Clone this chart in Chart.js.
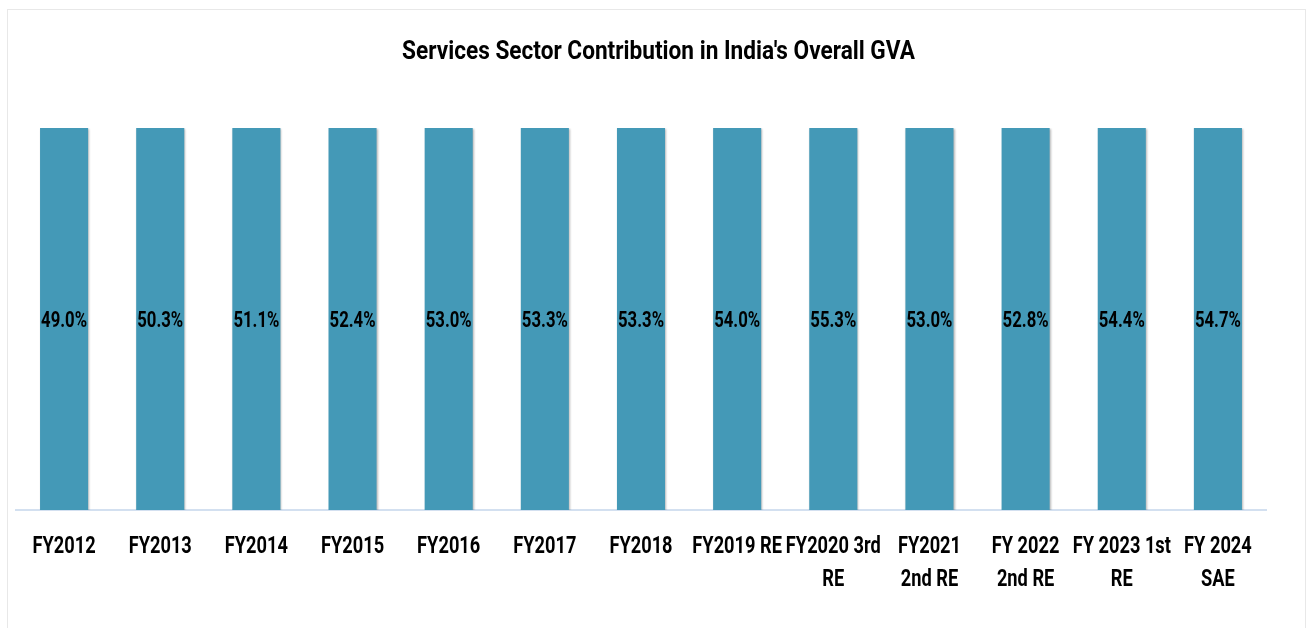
<!DOCTYPE html>
<html lang="en">
<head>
<meta charset="UTF-8">
<title>Services Sector Contribution in India's Overall GVA</title>
<script src="https://cdn.jsdelivr.net/npm/chart.js"></script>
<style>
    body {
        margin: 0;
        background: #ffffff;
    }
    .frame {
        position: absolute;
        left: 7px;
        top: 9px;
        width: 1299px;
        height: 640px;
        border: 1px solid #e8e8e8;
        box-sizing: border-box;
    }
    #chart-gva {
        position: absolute;
        left: 0;
        top: 0;
    }
</style>
</head>
<body>
<div class="frame">
    <canvas id="chart-gva" width="1297" height="617"></canvas>
</div>

<script>
    // categorias (eixo x) – rótulos com quebra de linha
    const categories = [
        'FY2012', 'FY2013', 'FY2014', 'FY2015', 'FY2016', 'FY2017', 'FY2018',
        'FY2019 RE', ['FY2020 3rd', 'RE'], ['FY2021', '2nd RE'], ['FY 2022', '2nd RE'],
        ['FY 2023 1st', 'RE'], ['FY 2024', 'SAE']
    ];
    // participação do setor de serviços no GVA (%)
    const servicesShare = [49.0, 50.3, 51.1, 52.4, 53.0, 53.3, 53.3, 54.0, 55.3, 53.0, 52.8, 54.4, 54.7];

    const chartTitle = "Services Sector Contribution in India's Overall GVA";
    const FONT = 'Roboto, "DejaVu Sans", sans-serif';

    // gráfico original é "100% empilhado" com uma única série
    function percentOfStack(seriesList) {
        return seriesList.map(s => s.map((v, i) => {
            const total = seriesList.reduce((acc, other) => acc + other[i], 0);
            return v / total * 100;
        }));
    }
    const stacked = percentOfStack([servicesShare]);

    // texto estreito (imitando fonte condensada)
    function narrowText(c, text, x, y, size, sx) {
        c.save();
        c.font = 'bold ' + size + 'px ' + FONT;
        c.textAlign = 'center';
        c.textBaseline = 'middle';
        c.fillStyle = '#000';
        c.translate(x, y);
        c.scale(sx, 1);
        c.fillText(text, 0, 0);
        c.restore();
    }

    // título, rótulos do eixo x e valores nas barras
    const textLayer = {
        id: 'textLayer',
        afterDraw(chart) {
            const c = chart.ctx;
            const area = chart.chartArea;
            const xScale = chart.scales.x;
            const meta = chart.getDatasetMeta(0);

            // título centrado no quadro todo (não na área do gráfico)
            narrowText(c, chartTitle, chart.width / 2 + 2, 42, 26, 0.87);

            categories.forEach((cat, i) => {
                const x = xScale.getPixelForValue(i);
                const lines = Array.isArray(cat) ? cat : [cat];
                lines.forEach((ln, k) => {
                    narrowText(c, ln, x, area.bottom + 37 + k * 33, 24, 0.76);
                });
            });

            meta.data.forEach((bar, i) => {
                const mid = (bar.y + bar.base) / 2;
                narrowText(c, servicesShare[i].toFixed(1) + '%', bar.x, mid + 2, 22, 0.76);
            });
        }
    };

    // sombra leve das barras
    const barShadow = {
        id: 'barShadow',
        beforeDatasetsDraw(chart) {
            chart.ctx.save();
            chart.ctx.shadowColor = 'rgba(0,0,0,0.28)';
            chart.ctx.shadowOffsetX = 1;
            chart.ctx.shadowOffsetY = 1;
            chart.ctx.shadowBlur = 2;
        },
        afterDatasetsDraw(chart) {
            chart.ctx.restore();
        }
    };

    const ctx = document.getElementById('chart-gva').getContext('2d');
    new Chart(ctx, {
        type: 'bar',
        data: {
            labels: categories,
            datasets: [{
                label: 'Services share of GVA',
                data: stacked[0],
                backgroundColor: '#4499b7',
                categoryPercentage: 1,
                barPercentage: 0.5
            }]
        },
        options: {
            responsive: false,
            animation: false,
            layout: {
                padding: { left: 8, right: 39, top: 118, bottom: 109 }
            },
            plugins: {
                legend: { display: false },
                tooltip: { enabled: false },
                title: { display: false }
            },
            scales: {
                x: {
                    grid: { display: false },
                    border: { color: '#d3e0f0', width: 2 },
                    ticks: { display: false }
                },
                y: {
                    display: false,
                    min: 0,
                    max: 100
                }
            }
        },
        plugins: [barShadow, textLayer]
    });
</script>
</body>
</html>
